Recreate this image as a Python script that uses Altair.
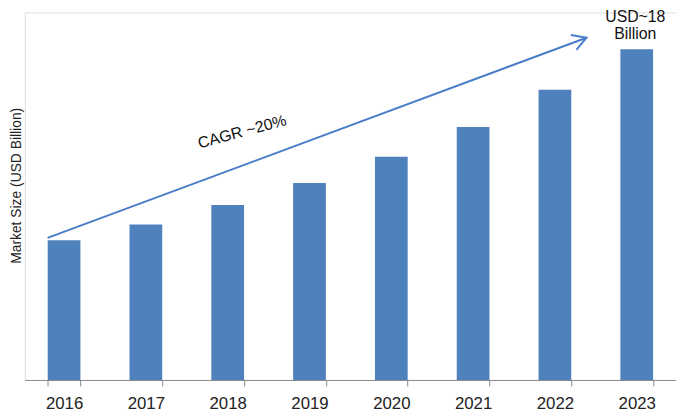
import altair as alt
import pandas as pd

years = ["2016", "2017", "2018", "2019", "2020", "2021", "2022", "2023"]
market_size = [7.6, 8.46, 9.52, 10.72, 12.15, 13.76, 15.79, 18.0]

y_title = "Market Size (USD Billion)"
cagr_label = "CAGR ~20%"
top_label = ["USD~18", "Billion"]

# annotation positions in data units (x: slot index 0..8, y: USD Billion)
arrow_start = (0.28, 7.73)
arrow_end = (6.90, 18.62)
cagr_pos = (2.67, 13.5)
top_label_x = 7.5
top_label_y = [19.75, 18.8]

BAR = "#4F81BD"
ARROW = "#4A7EC8"
FONT = "Liberation Sans"

bars_df = pd.DataFrame({"year": years, "value": market_size})
ydom = alt.Scale(domain=[0, 20], nice=False, zero=True)
yaxis = alt.Axis(title=y_title, labels=False, ticks=False, domain=False,
                 grid=False, titleFont=FONT, titleFontSize=14,
                 titleFontWeight="normal", titleColor="#222222",
                 titlePadding=1, titleY=175)

bars = alt.Chart(bars_df).mark_bar(color=BAR).encode(
    x=alt.X("year:N", sort=years,
            scale=alt.Scale(paddingInner=0.6, paddingOuter=0.28),
            axis=alt.Axis(title=None, labelAngle=0, tickBand="extent",
                          domainColor="#888888", tickColor="#888888",
                          tickSize=6, labelPadding=10, labelFontSize=17,
                          labelFont=FONT, labelColor="#222222", grid=False)),
    y=alt.Y("value:Q", scale=ydom, axis=yaxis),
)

xq = alt.Scale(domain=[0, 8], nice=False, zero=False)

arrow_df = pd.DataFrame({"x": [arrow_start[0]], "y": [arrow_start[1]],
                         "x2": [arrow_end[0]], "y2": [arrow_end[1]]})
arrow_line = alt.Chart(arrow_df).mark_rule(color=ARROW, strokeWidth=2).encode(
    x=alt.X("x:Q", scale=xq, axis=None),
    y=alt.Y("y:Q", scale=ydom, axis=yaxis),
    x2="x2:Q", y2="y2:Q",
)

head_df = pd.DataFrame({"x": [arrow_end[0]], "y": [arrow_end[1]]})
arrow_head = alt.Chart(head_df).mark_point(
    shape="M -0.866 -0.5 L 0 0 L -0.866 0.5", filled=False, stroke=ARROW,
    strokeWidth=2, size=1024, angle=339.7, opacity=1,
).encode(
    x=alt.X("x:Q", scale=xq, axis=None),
    y=alt.Y("y:Q", scale=ydom, axis=yaxis),
)

cagr_df = pd.DataFrame({"x": [cagr_pos[0]], "y": [cagr_pos[1]], "t": [cagr_label]})
cagr = alt.Chart(cagr_df).mark_text(
    font=FONT, fontSize=16, color="#111111", angle=345, align="center",
    baseline="middle",
).encode(
    x=alt.X("x:Q", scale=xq, axis=None),
    y=alt.Y("y:Q", scale=ydom, axis=yaxis),
    text="t:N",
)

top_df = pd.DataFrame({"x": [top_label_x] * 2, "y": top_label_y, "t": top_label})
top = alt.Chart(top_df).mark_text(
    font=FONT, fontSize=16, color="#111111", align="center", baseline="middle",
).encode(
    x=alt.X("x:Q", scale=xq, axis=None),
    y=alt.Y("y:Q", scale=ydom, axis=yaxis),
    text="t:N",
)

chart = alt.layer(bars, arrow_line, arrow_head, cagr, top).resolve_scale(
    x="independent"
).properties(
    width=659, height=372,
    autosize=alt.AutoSizeParams(type="none"),
    padding={"left": 17, "top": 2, "right": 0, "bottom": 33},
).configure_view(stroke=None).configure(background="white")

chart.save("out.html", embed_options={"renderer": "svg", "actions": False})
